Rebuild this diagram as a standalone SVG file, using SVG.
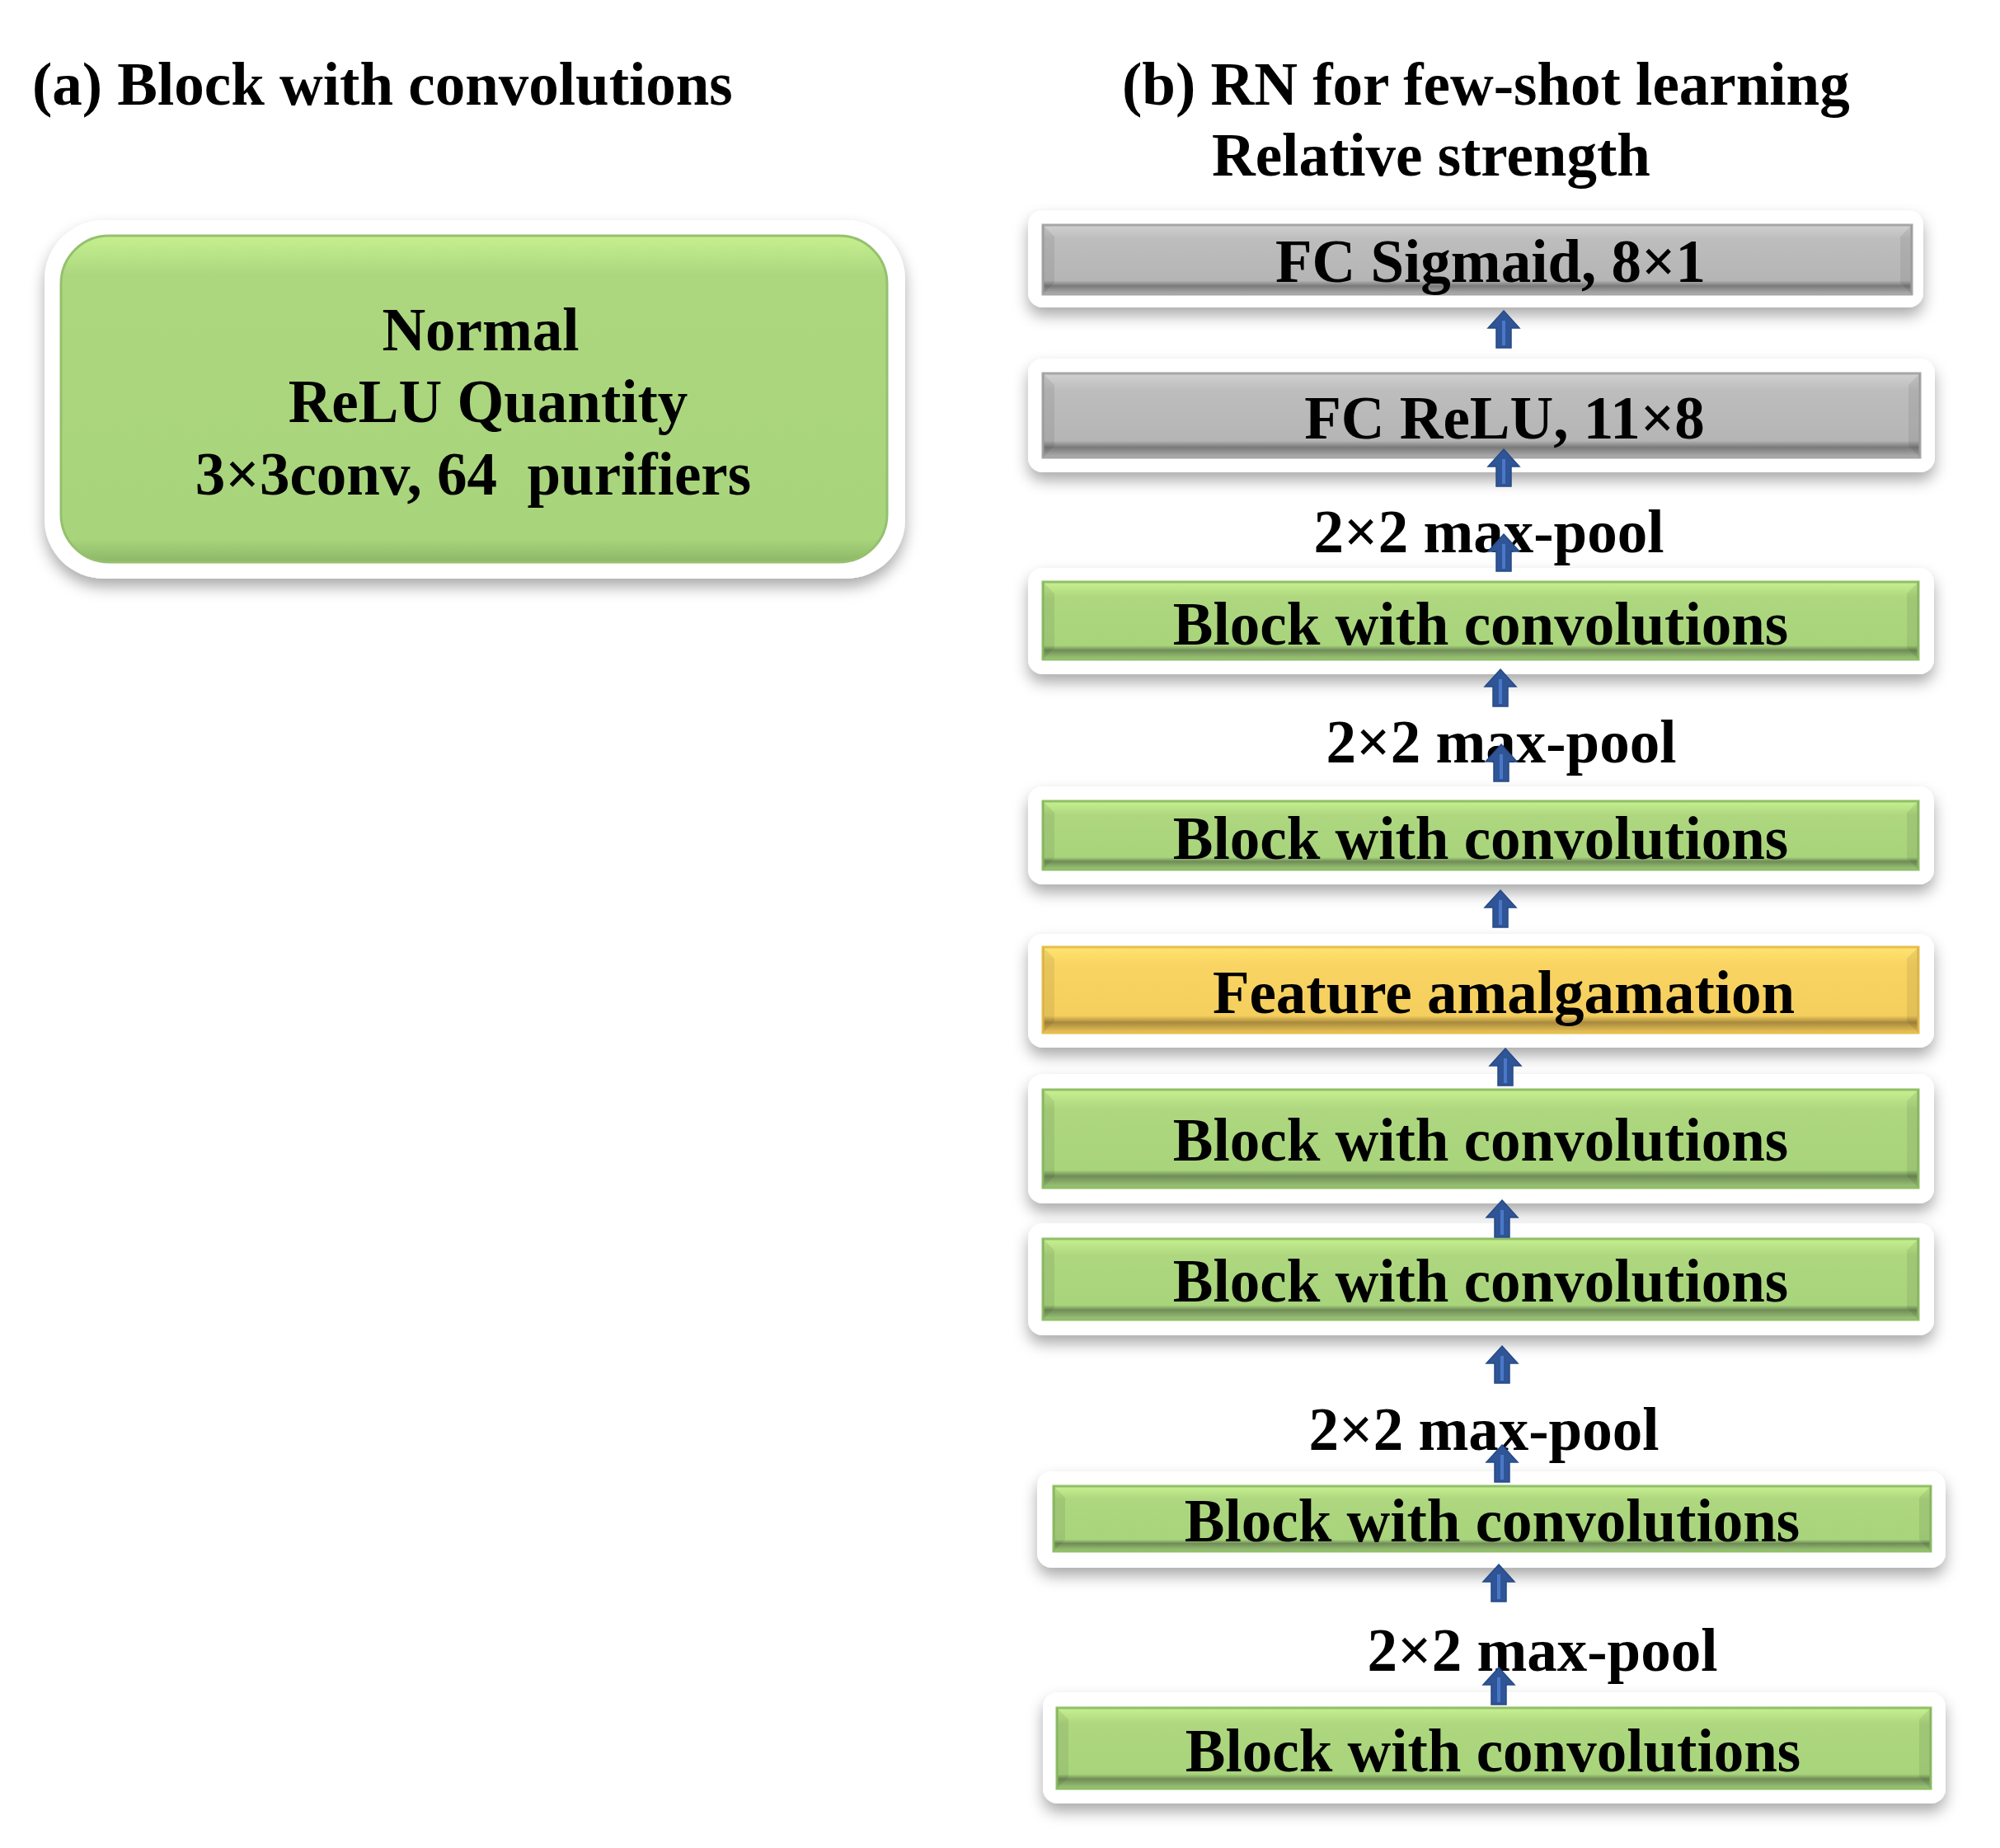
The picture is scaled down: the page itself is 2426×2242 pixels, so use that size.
<svg xmlns="http://www.w3.org/2000/svg" xmlns:xlink="http://www.w3.org/1999/xlink" width="2426" height="2242" viewBox="0 0 2426 2242">
<style>
.t{font-family:"Liberation Serif","Times New Roman",serif;font-weight:bold;font-size:73px;fill:#000}
.c{text-anchor:middle}
.outer{fill:#fff;filter:url(#sh)}
.green{fill:url(#gG);stroke:#8fbf68;stroke-width:3}
.gray{fill:url(#gY);stroke:#a6a6a6;stroke-width:3}
.yel{fill:url(#gO);stroke:#e6be4a;stroke-width:3}
.bv{fill:#000;opacity:0.07}
</style>
<defs>
<filter id="sh" x="-10%" y="-40%" width="120%" height="190%">
<feDropShadow dx="0" dy="10" stdDeviation="9" flood-color="#000" flood-opacity="0.33"/>
</filter>
<linearGradient id="gG" x1="0" y1="0" x2="0" y2="1">
<stop offset="0" stop-color="#c6f08f"/><stop offset="0.2" stop-color="#aed77f"/><stop offset="0.82" stop-color="#a8d47c"/><stop offset="0.88" stop-color="#6f8c57"/><stop offset="1" stop-color="#9fc978"/>
</linearGradient>
<linearGradient id="gL" x1="0" y1="0" x2="0" y2="1">
<stop offset="0" stop-color="#c6f08f"/><stop offset="0.12" stop-color="#acd77f"/><stop offset="0.93" stop-color="#a8d47c"/><stop offset="1" stop-color="#8db766"/>
</linearGradient>
<linearGradient id="gY" x1="0" y1="0" x2="0" y2="1">
<stop offset="0" stop-color="#d0d0d0"/><stop offset="0.2" stop-color="#bdbdbd"/><stop offset="0.8" stop-color="#b5b5b5"/><stop offset="0.88" stop-color="#7a7a7a"/><stop offset="1" stop-color="#b0b0b0"/>
</linearGradient>
<linearGradient id="gO" x1="0" y1="0" x2="0" y2="1">
<stop offset="0" stop-color="#ffe470"/><stop offset="0.2" stop-color="#f9d463"/><stop offset="0.8" stop-color="#f5cf5d"/><stop offset="0.88" stop-color="#a88a3e"/><stop offset="1" stop-color="#ecc457"/>
</linearGradient>
<g id="arr">
<path d="M0,0 L19,21 L9,21 L9,45 L-9,45 L-9,21 L-19,21 Z" fill="#2f5597" stroke="#264a86" stroke-width="1.5"/>
<rect x="-2" y="12" width="4" height="30" fill="#4a78c8"/>
</g>
</defs>

<g id="title-a"><text class="t" x="39" y="127">(a) Block with convolutions</text></g>
<g id="title-b">
<text class="t" x="1361" y="127">(b) RN for few-shot learning</text>
<text class="t" x="1470" y="213">Relative strength</text>
</g>

<g id="block-a">
<rect class="outer" x="54" y="267" width="1044" height="435" rx="72"/>
<rect x="74" y="286" width="1002" height="396" rx="58" fill="url(#gL)" stroke="#95c06e" stroke-width="3"/>
<text class="t c" x="583" y="425">Normal</text>
<text class="t c" x="592" y="512">ReLU Quantity</text>
<text class="t c" x="574" y="600" xml:space="preserve">3×3conv, 64  purifiers</text>
</g>

<g id="n1">
<rect class="outer" x="1247" y="255" width="1086" height="118" rx="18"/>
<rect class="gray" x="1265" y="273" width="1054" height="84"/>
<polygon class="bv" points="1265,273 1279,287 1279,343 1265,357"/><polygon class="bv" points="2319,273 2305,287 2305,343 2319,357"/>
<text class="t c" x="1808" y="342">FC Sigmaid, 8×1</text>
</g>
<g id="n2">
<rect class="outer" x="1247" y="435" width="1100" height="138" rx="18"/>
<rect class="gray" x="1265" y="453" width="1064" height="102"/>
<polygon class="bv" points="1265,453 1279,467 1279,541 1265,555"/><polygon class="bv" points="2329,453 2315,467 2315,541 2329,555"/>
<text class="t c" x="1825" y="532">FC ReLU, 11×8</text>
</g>
<g id="n3">
<rect class="outer" x="1247" y="689" width="1099" height="129" rx="18"/>
<rect class="green" x="1265" y="706" width="1062" height="94"/>
<polygon class="bv" points="1265,706 1279,720 1279,786 1265,800"/><polygon class="bv" points="2327,706 2313,720 2313,786 2327,800"/>
<text class="t c" x="1796" y="782">Block with convolutions</text>
</g>
<g id="n4">
<rect class="outer" x="1247" y="954" width="1099" height="119" rx="18"/>
<rect class="green" x="1265" y="972" width="1062" height="83"/>
<polygon class="bv" points="1265,972 1279,986 1279,1041 1265,1055"/><polygon class="bv" points="2327,972 2313,986 2313,1041 2327,1055"/>
<text class="t c" x="1796" y="1042">Block with convolutions</text>
</g>
<g id="n5">
<rect class="outer" x="1247" y="1133" width="1099" height="138" rx="18"/>
<rect class="yel" x="1265" y="1149" width="1062" height="104"/>
<polygon class="bv" points="1265,1149 1279,1163 1279,1239 1265,1253"/><polygon class="bv" points="2327,1149 2313,1163 2313,1239 2327,1253"/>
<text class="t c" x="1824" y="1229">Feature amalgamation</text>
</g>
<g id="n6">
<rect class="outer" x="1247" y="1303" width="1099" height="157" rx="18"/>
<rect class="green" x="1265" y="1322" width="1062" height="119"/>
<polygon class="bv" points="1265,1322 1279,1336 1279,1427 1265,1441"/><polygon class="bv" points="2327,1322 2313,1336 2313,1427 2327,1441"/>
<text class="t c" x="1796" y="1408">Block with convolutions</text>
</g>
<g id="n7">
<rect class="outer" x="1247" y="1484" width="1099" height="136" rx="18"/>
<rect class="green" x="1265" y="1503" width="1062" height="98"/>
<polygon class="bv" points="1265,1503 1279,1517 1279,1587 1265,1601"/><polygon class="bv" points="2327,1503 2313,1517 2313,1587 2327,1601"/>
<text class="t c" x="1796" y="1579">Block with convolutions</text>
</g>
<g id="n8">
<rect class="outer" x="1258" y="1785" width="1102" height="117" rx="18"/>
<rect class="green" x="1278" y="1803" width="1064" height="79"/>
<polygon class="bv" points="1278,1803 1292,1817 1292,1868 1278,1882"/><polygon class="bv" points="2342,1803 2328,1817 2328,1868 2342,1882"/>
<text class="t c" x="1810" y="1870">Block with convolutions</text>
</g>
<g id="n9">
<rect class="outer" x="1265" y="2053" width="1095" height="135" rx="18"/>
<rect class="green" x="1282" y="2072" width="1060" height="98"/>
<polygon class="bv" points="1282,2072 1296,2086 1296,2156 1282,2170"/><polygon class="bv" points="2342,2072 2328,2086 2328,2156 2342,2170"/>
<text class="t c" x="1811" y="2149">Block with convolutions</text>
</g>

<g id="pool-labels">
<text class="t c" x="1806" y="670">2×2 max-pool</text>
<text class="t c" x="1821" y="925">2×2 max-pool</text>
<text class="t c" x="1800" y="1759">2×2 max-pool</text>
<text class="t c" x="1871" y="2027">2×2 max-pool</text>
</g>

<g id="connectors">
<use xlink:href="#arr" x="1824" y="377"/>
<use xlink:href="#arr" x="1824" y="545"/>
<use xlink:href="#arr" x="1824" y="648"/>
<use xlink:href="#arr" x="1820" y="812"/>
<use xlink:href="#arr" x="1821" y="903"/>
<use xlink:href="#arr" x="1820" y="1080"/>
<use xlink:href="#arr" x="1826" y="1272"/>
<use xlink:href="#arr" x="1822" y="1456"/>
<use xlink:href="#arr" x="1822" y="1633"/>
<use xlink:href="#arr" x="1822" y="1753"/>
<use xlink:href="#arr" x="1818" y="1898"/>
<use xlink:href="#arr" x="1818" y="2023"/>
</g>
</svg>
